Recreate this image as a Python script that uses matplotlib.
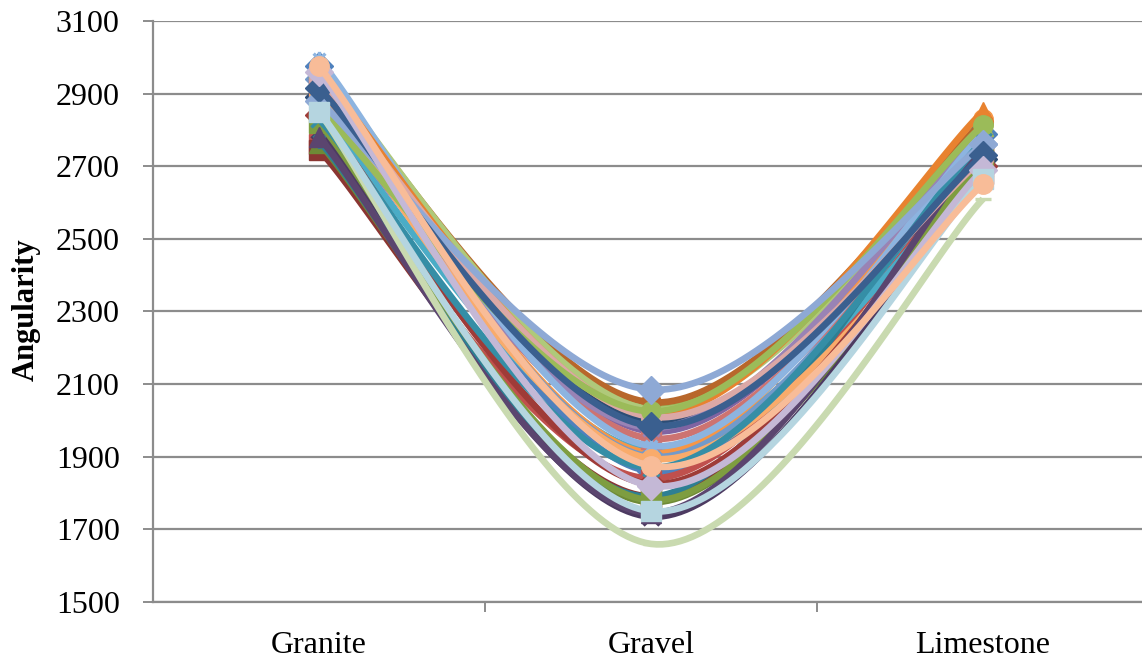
import numpy as np
import matplotlib
matplotlib.use("Agg")
import matplotlib.pyplot as plt
from matplotlib.path import Path

categories = ["Granite", "Gravel", "Limestone"]

# Angularity per sample (one entry per series) for each aggregate type
granite = [2975, 2760, 2880, 2930, 2850, 2950, 2890, 2745, 2765, 2800,
           2770, 2960, 2940, 2920, 2970, 2870, 2995, 2900, 2840, 2820,
           2780, 2830, 2955, 2935, 2860, 2880, 2915, 2850, 2960, 2850, 2975]
gravel = [1860, 1840, 2040, 1970, 1915, 1910, 1995, 1790, 1775, 1735,
          1790, 2050, 1900, 1950, 2030, 1980, 1930, 1895, 1825, 1780,
          1745, 1870, 2015, 2010, 2025, 2085, 1985, 1660, 1820, 1750, 1875]
limestone = [2790, 2740, 2810, 2770, 2700, 2830, 2720, 2680, 2700, 2700,
             2830, 2820, 2760, 2740, 2790, 2800, 2790, 2660, 2700, 2720,
             2760, 2770, 2850, 2720, 2813, 2760, 2730, 2610, 2690, 2665, 2650]

yticks = [1500, 1700, 1900, 2100, 2300, 2500, 2700, 2900, 3100]

colors = ["#4F81BD", "#C0504D", "#9BBB59", "#8064A2", "#4BACC6", "#F79646",
          "#2C4D75", "#8B3532", "#6E8A36", "#4D3B62", "#2E7F93", "#B8672B",
          "#729ACA", "#CD7371", "#AFC97A", "#9983B5", "#8DB4E0", "#F9AB6B",
          "#9F3B38", "#7E9D40", "#5B456F", "#358EA6", "#E8822F", "#DBA8A6",
          "#9BBB59", "#8EA9D5", "#3A5F8F", "#C9DAB0", "#C4B8D6", "#B5D5E0",
          "#F8BC98"]

# asterisk-like marker: an x with a vertical stroke
star_path = Path([(-1, -1), (1, 1), (-1, 1), (1, -1), (0, -1.3), (0, 1.3)],
                 [Path.MOVETO, Path.LINETO, Path.MOVETO, Path.LINETO,
                  Path.MOVETO, Path.LINETO])
cycle = ["D", "s", "^", "x", star_path, "o"]
markers = [cycle[i % 6] for i in range(len(granite))]
markers[22] = "^"
markers[24] = "o"
markers[25] = "D"
markers[26] = "D"
markers[27] = "_"
markers[28] = "D"
markers[29] = "s"
markers[30] = "o"


def smooth(xs, ys, n=60):
    """Bezier smoothing through the points, Excel style."""
    pts = np.column_stack([xs, ys]).astype(float)
    m = len(pts)
    out = []
    for i in range(m - 1):
        p0 = pts[max(i - 1, 0)]
        p1 = pts[i]
        p2 = pts[i + 1]
        p3 = pts[min(i + 2, m - 1)]
        c1 = p1 + (p2 - p0) / 6.0
        c2 = p2 - (p3 - p1) / 6.0
        t = np.linspace(0, 1, n)[:, None]
        seg = ((1 - t) ** 3) * p1 + 3 * ((1 - t) ** 2) * t * c1 \
            + 3 * (1 - t) * t ** 2 * c2 + t ** 3 * p2
        out.append(seg if i == 0 else seg[1:])
    out = np.vstack(out)
    return out[:, 0], out[:, 1]


plt.rcParams["font.family"] = ["Liberation Serif", "DejaVu Serif"]

fig = plt.figure(figsize=(11.42, 6.62), dpi=100)
ax = fig.add_axes([153 / 1142, 1 - 602 / 662, (1149 - 153) / 1142, (602 - 21) / 662])

x = np.arange(1, len(categories) + 1)
for i in range(len(granite)):
    yv = [granite[i], gravel[i], limestone[i]]
    sx, sy = smooth(x, yv)
    c = colors[i]
    ax.plot(sx, sy, color=c, lw=4.8, solid_capstyle="butt", zorder=3 + i * 0.01)
    mk = markers[i]
    if mk in ("x", "_") or mk is star_path:
        ax.plot(x, yv, linestyle="none", marker=mk, ms=11, mec=c, mew=2.4,
                zorder=3 + i * 0.01 + 0.005)
    else:
        ms = {"D": 14, "s": 14.5, "^": 15, "o": 14}[mk]
        ax.plot(x, yv, linestyle="none", marker=mk, ms=ms, mfc=c, mec=c,
                mew=1, zorder=3 + i * 0.01 + 0.005)

ax.set_xlim(0.5, 3.5)
ax.set_ylim(1500, 3100)
ax.set_yticks(yticks)
ax.set_yticklabels([str(v) for v in yticks])
ax.set_xticks(x)
ax.set_xticklabels(categories)
ax.set_xticks([1.5, 2.5, 3.5], minor=True)

ax.yaxis.grid(True, color="#8C8C8C", lw=1.6, zorder=1)
ax.set_axisbelow(True)
for s in ("top", "right"):
    ax.spines[s].set_visible(False)
for s in ("left", "bottom"):
    ax.spines[s].set_color("#8C8C8C")
    ax.spines[s].set_linewidth(1.6)

ax.tick_params(axis="y", length=7, width=1.4, color="#8C8C8C",
               labelsize=23, pad=17)
ax.tick_params(axis="x", which="major", length=0, labelsize=23, pad=21)
ax.tick_params(axis="x", which="minor", length=7, width=1.4, color="#8C8C8C")

ax.set_ylabel("Angularity", fontsize=22, fontweight="bold")
ax.yaxis.set_label_coords(-0.113, 0.503)

fig.savefig("out.png", dpi=100)
